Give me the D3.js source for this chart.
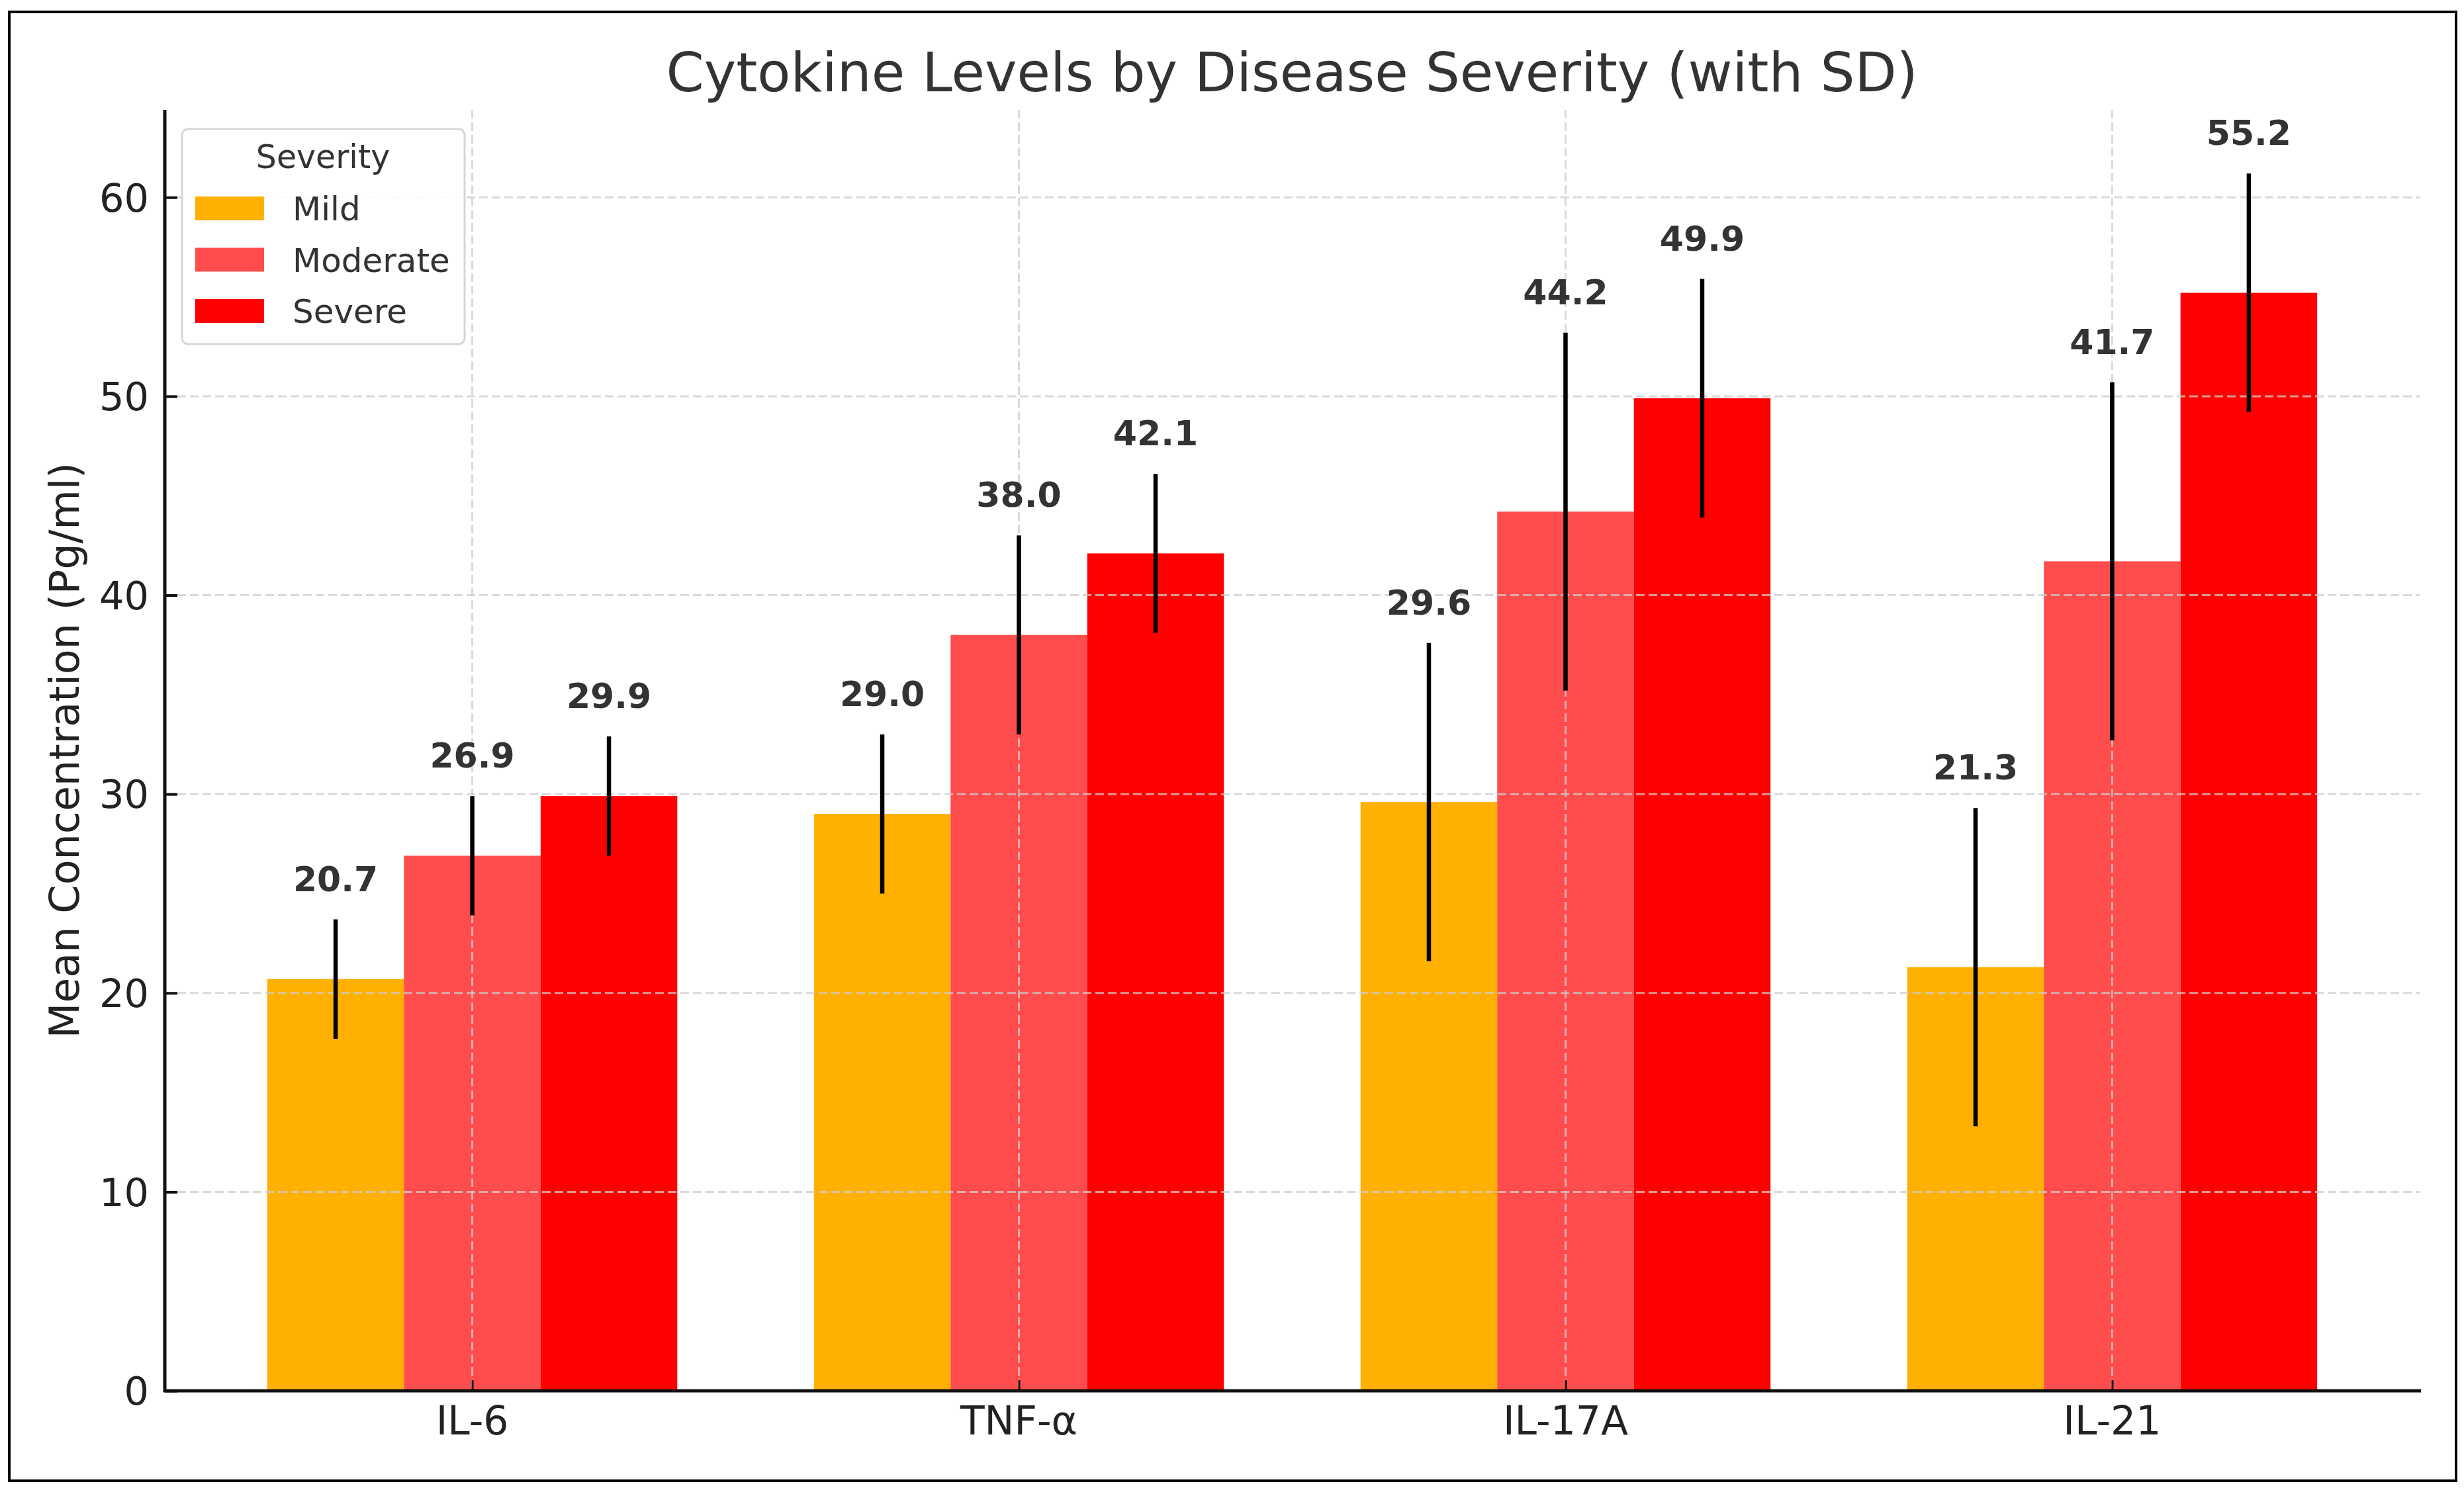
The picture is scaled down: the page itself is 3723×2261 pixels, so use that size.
<!DOCTYPE html>
<html>
<head>
<meta charset="utf-8">
<script src="https://cdn.jsdelivr.net/npm/d3@7"></script>
<style>
  body { margin: 0; background: #fff; }
  svg { display: block; font-family: 'DejaVu Sans', sans-serif; }
</style>
</head>
<body>
<svg width="3723" height="2261"></svg>
<script>
/// Data
const cytokines = ['IL-6', 'TNF-α', 'IL-17A', 'IL-21'];
const severities = ['Mild', 'Moderate', 'Severe'];
const mildMeans = [20.7, 29.0, 29.6, 21.3];
const moderateMeans = [26.9, 38.0, 44.2, 41.7];
const severeMeans = [29.9, 42.1, 49.9, 55.2];
const mildSD = [3, 4, 8, 8];
const moderateSD = [3, 5, 9, 9];
const severeSD = [3, 4, 6, 6];
const yTicks = [0, 10, 20, 30, 40, 50, 60];

const colors = ['#ffb000', '#ff4c4c', '#ff0000'];
const means = [mildMeans, moderateMeans, severeMeans];
const sds = [mildSD, moderateSD, severeSD];

// flat table for the bars
const bars = [];
cytokines.forEach((c, i) => {
  severities.forEach((s, j) => {
    bars.push({ cytokine: c, severity: s, idx: i, sIdx: j, mean: means[j][i], sd: sds[j][i] });
  });
});

const svg = d3.select('svg');

// outer frame
svg.append('rect')
  .attr('x', 14).attr('y', 18)
  .attr('width', 3697).attr('height', 2220)
  .attr('fill', 'none').attr('stroke', '#000').attr('stroke-width', 4);

const plotLeft = 249, plotRight = 3656, plotTop = 166, plotBottom = 2102;

// x positions like matplotlib: 0..3, bar width 0.25, margins 0.5625
const x = d3.scaleLinear().domain([-0.5625, cytokines.length - 1 + 0.5625]).range([plotLeft, plotRight]);
const y = d3.scaleLinear().domain([0, 64.4]).range([plotBottom, plotTop]);
const barW = 0.25;

// bars
svg.append('g')
  .selectAll('rect')
  .data(bars)
  .join('rect')
  .attr('x', (d) => x(d.idx + (d.sIdx - 1.5) * barW))
  .attr('y', (d) => y(d.mean))
  .attr('width', x(barW) - x(0))
  .attr('height', (d) => y(0) - y(d.mean))
  .attr('fill', (d) => colors[d.sIdx]);

// grid (drawn above the bars, faint)
const grid = svg.append('g')
  .attr('stroke', '#cccccc')
  .attr('stroke-opacity', 0.75)
  .attr('stroke-width', 3)
  .attr('stroke-dasharray', '13,6');

grid.selectAll('line.h')
  .data(yTicks.filter((t) => t > 0))
  .join('line')
  .attr('class', 'h')
  .attr('x1', plotLeft).attr('x2', plotRight)
  .attr('y1', (d) => y(d)).attr('y2', (d) => y(d));

grid.selectAll('line.v')
  .data(cytokines)
  .join('line')
  .attr('class', 'v')
  .attr('x1', (d, i) => x(i)).attr('x2', (d, i) => x(i))
  .attr('y1', plotTop).attr('y2', plotBottom);

// error bars
svg.append('g')
  .selectAll('line')
  .data(bars)
  .join('line')
  .attr('x1', (d) => x(d.idx + (d.sIdx - 1) * barW))
  .attr('x2', (d) => x(d.idx + (d.sIdx - 1) * barW))
  .attr('y1', (d) => y(d.mean - d.sd))
  .attr('y2', (d) => y(d.mean + d.sd))
  .attr('stroke', '#000')
  .attr('stroke-width', 6.5);

// value labels above error bars
svg.append('g')
  .selectAll('text')
  .data(bars)
  .join('text')
  .attr('x', (d) => x(d.idx + (d.sIdx - 1) * barW))
  .attr('y', (d) => y(d.mean + d.sd) - 43)
  .attr('text-anchor', 'middle')
  .attr('font-size', 52)
  .attr('font-weight', 'bold')
  .attr('fill', '#333')
  .text((d) => d.mean.toFixed(1));

// y axis
const yAxis = svg.append('g')
  .attr('transform', `translate(${plotLeft},0)`)
  .call(d3.axisRight(y).tickValues(yTicks).tickSize(19).tickFormat(''));
yAxis.select('.domain').remove();
yAxis.selectAll('.tick line').attr('stroke', '#111').attr('stroke-width', 4);

svg.append('g')
  .selectAll('text')
  .data(yTicks)
  .join('text')
  .attr('x', 225)
  .attr('y', (d) => y(d))
  .attr('dy', '0.36em')
  .attr('text-anchor', 'end')
  .attr('font-size', 59)
  .attr('fill', '#222')
  .text((d) => d);

// x axis ticks (inward)
const xAxis = svg.append('g')
  .attr('transform', `translate(0,${plotBottom})`)
  .call(d3.axisTop(x).tickValues(d3.range(cytokines.length)).tickSize(16).tickFormat(''));
xAxis.select('.domain').remove();
xAxis.selectAll('.tick line').attr('stroke', '#111').attr('stroke-width', 3);

svg.append('g')
  .selectAll('text')
  .data(cytokines)
  .join('text')
  .attr('x', (d, i) => x(i))
  .attr('y', 2168)
  .attr('text-anchor', 'middle')
  .attr('font-size', 60)
  .attr('fill', '#222')
  .text((d) => d);

// spines
svg.append('line')
  .attr('x1', plotLeft).attr('x2', plotLeft)
  .attr('y1', plotTop).attr('y2', plotBottom + 2)
  .attr('stroke', '#111').attr('stroke-width', 5);
svg.append('line')
  .attr('x1', plotLeft - 2).attr('x2', plotRight + 2)
  .attr('y1', plotBottom).attr('y2', plotBottom)
  .attr('stroke', '#111').attr('stroke-width', 5);

// title and axis label
svg.append('text')
  .attr('x', 1952).attr('y', 138)
  .attr('text-anchor', 'middle')
  .attr('font-size', 82)
  .attr('fill', '#333')
  .text('Cytokine Levels by Disease Severity (with SD)');

svg.append('text')
  .attr('transform', `translate(119,${(plotTop + plotBottom) / 2}) rotate(-90)`)
  .attr('text-anchor', 'middle')
  .attr('font-size', 62)
  .attr('fill', '#222')
  .text('Mean Concentration (Pg/ml)');

// legend
const legend = svg.append('g');
legend.append('rect')
  .attr('x', 275).attr('y', 195)
  .attr('width', 427).attr('height', 325)
  .attr('rx', 9)
  .attr('fill', '#fff').attr('fill-opacity', 0.85)
  .attr('stroke', '#d6d6d6').attr('stroke-width', 3);

legend.append('text')
  .attr('x', 488).attr('y', 254)
  .attr('text-anchor', 'middle')
  .attr('font-size', 49)
  .attr('fill', '#333')
  .text('Severity');

legend.selectAll('rect.patch')
  .data(severities)
  .join('rect')
  .attr('class', 'patch')
  .attr('x', 295)
  .attr('y', (d, i) => 297 + i * 77.5)
  .attr('width', 104)
  .attr('height', 36)
  .attr('fill', (d, i) => colors[i]);

legend.selectAll('text.lab')
  .data(severities)
  .join('text')
  .attr('class', 'lab')
  .attr('x', 442)
  .attr('y', (d, i) => 333 + i * 77.5)
  .attr('font-size', 50)
  .attr('fill', '#333')
  .text((d) => d);
</script>
</body>
</html>
